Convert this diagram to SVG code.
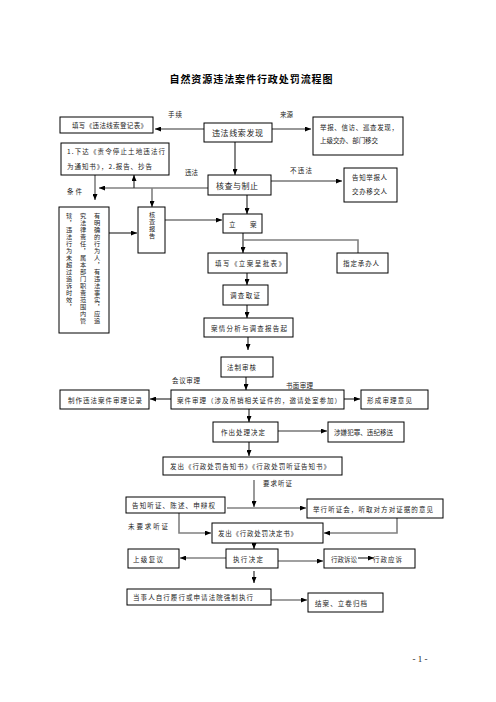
<svg xmlns="http://www.w3.org/2000/svg" width="496" height="702" viewBox="0 0 496 702">
<defs>
<marker id="ah" markerWidth="6" markerHeight="5" refX="6" refY="2.5" orient="auto" markerUnits="userSpaceOnUse">
<path d="M0,0 L6,2.5 L0,5 z" fill="#000"/>
</marker>
<style>
.b{fill:#fff;stroke:#000;stroke-width:1}
.t{font-family:"Noto Sans CJK SC","Noto Sans",sans-serif;font-size:6.5px;fill:#222;dominant-baseline:central}
.m{font-size:8px}
.c{stroke:#333;stroke-width:1.2;fill:none}
.g{stroke:#808080;stroke-width:1.6;fill:none}
.a{marker-end:url(#ah)}
.v{writing-mode:vertical-rl;font-size:6.2px;letter-spacing:0.8px;dominant-baseline:auto}
</style>
</defs>
<rect width="496" height="702" fill="#fff"/>
<text x="251" y="78" text-anchor="middle" dominant-baseline="central" font-family="Noto Sans CJK SC, sans-serif" font-size="10" font-weight="bold" textLength="163" lengthAdjust="spacing">自然资源违法案件行政处罚流程图</text>

<g id="connectors">
<line class="c a" x1="204" y1="129" x2="155" y2="129"/>
<line class="c a" x1="272" y1="129" x2="311" y2="129"/>
<line class="c a" x1="235" y1="142" x2="235" y2="175"/>
<line class="c a" x1="271" y1="181" x2="342" y2="181"/>
<line class="g a" x1="208" y1="188" x2="99" y2="188"/>
<line class="c a" x1="134" y1="188" x2="134" y2="175"/>
<line class="g a" x1="152" y1="188" x2="152" y2="207"/>
<line class="g a" x1="95" y1="175" x2="95" y2="200"/>
<line class="c a" x1="109" y1="233" x2="137" y2="233"/>
<line class="c a" x1="165" y1="220" x2="222" y2="220"/>
<line class="c a" x1="247" y1="194" x2="247" y2="214"/>
<line class="c a" x1="243" y1="233" x2="243" y2="253"/>
<polyline class="g" points="243,240 358,240 358,253"/>
<line class="c a" x1="247" y1="273" x2="247" y2="285"/>
<line class="c a" x1="247" y1="305" x2="247" y2="318"/>
<line class="c a" x1="248" y1="337" x2="248" y2="350"/>
<line class="c a" x1="246" y1="377" x2="246" y2="390"/>
<line class="c a" x1="171" y1="399" x2="150" y2="399"/>
<line class="c a" x1="343" y1="399" x2="360" y2="399"/>
<line class="c a" x1="249" y1="409" x2="249" y2="422"/>
<line class="c a" x1="278" y1="431" x2="327" y2="431"/>
<line class="c a" x1="249" y1="442" x2="249" y2="456"/>
<line class="g a" x1="254" y1="480" x2="254" y2="507"/>
<line class="g a" x1="227" y1="508" x2="306" y2="508"/>
<polyline class="g a" points="179,513 179,533 211,533"/>
<polyline class="g a" points="397,518 397,533 324,533"/>
<line class="c a" x1="254" y1="543" x2="254" y2="549"/>
<line class="g a" x1="226" y1="558" x2="180" y2="558"/>
<line class="g a" x1="278" y1="561" x2="323" y2="561"/>
<line class="c a" x1="254" y1="571" x2="254" y2="583"/>
<line class="g a" x1="271" y1="600" x2="307" y2="600"/>
</g>

<g id="labels">
<text class="t" x="168" y="114" textLength="14">手续</text>
<text class="t" x="280" y="114" textLength="13">来源</text>
<text class="t" x="185" y="172" textLength="13">违法</text>
<text class="t" x="290" y="170" textLength="22">不违法</text>
<text class="t" x="67" y="191" textLength="15">条件</text>
<text class="t" x="172" y="380" textLength="28">会议审理</text>
<text class="t" x="286" y="385" textLength="27">书面审理</text>
<text class="t" x="263" y="483" textLength="29">要求听证</text>
<text class="t" x="128" y="526" textLength="40">未要求听证</text>
</g>

<g id="n-dengji"><rect class="b" x="60" y="117" width="93" height="16"/><text class="t" x="72" y="125" textLength="75">填写《违法线索登记表》</text></g>
<g id="n-faxian"><rect class="b" x="204" y="123" width="68" height="19"/><text class="t m" x="212" y="132.5" textLength="51">违法线索发现</text></g>
<g id="n-laiyuan"><rect class="b" x="313" y="117" width="90" height="38"/><text class="t" x="320" y="127" textLength="78">举报、信访、巡查发现，</text><text class="t" x="320" y="140" textLength="58">上级交办、部门移交</text></g>
<g id="n-xiada"><rect class="b" x="61" y="143" width="108" height="32"/><text class="t" x="67" y="151" textLength="98">1.下达《责令停止土地违法行</text><text class="t" x="67" y="166" textLength="85">为通知书》，2.报告、抄告</text></g>
<g id="n-hecha"><rect class="b" x="208" y="175" width="63" height="20"/><text class="t m" x="216" y="185" textLength="42">核查与制止</text></g>
<g id="n-gaozhi"><rect class="b" x="344" y="168" width="53" height="34"/><text class="t" x="352" y="177" textLength="35">告知举报人</text><text class="t" x="352" y="191" textLength="35">交办移交人</text></g>
<g id="n-tiaojian"><rect class="b" x="59" y="207" width="50" height="126"/>
<text class="t v" x="97" y="213">有明确的行为人，有违法事实，应追</text>
<text class="t v" x="83" y="213">究法律责任，属本部门职责范围内管</text>
<text class="t v" x="69" y="213">辖，违法行为未超过追诉时效，</text></g>
<g id="n-baogao"><rect class="b" x="138" y="207" width="27" height="46"/><text class="t v" x="152" y="212">核查报告</text></g>
<g id="n-lian"><rect class="b" x="223" y="214" width="39" height="19"/><text class="t" x="229" y="224">立</text><text class="t" x="250" y="224">案</text></g>
<g id="n-chengpi"><rect class="b" x="208" y="253" width="79" height="20"/><text class="t" x="215" y="263" textLength="70">填写《立案呈批表》</text></g>
<g id="n-chengban"><rect class="b" x="337" y="253" width="51" height="20"/><text class="t" x="343" y="263" textLength="36">指定承办人</text></g>
<g id="n-diaocha"><rect class="b" x="223" y="285" width="45" height="20"/><text class="t" x="230" y="295" textLength="30">调查取证</text></g>
<g id="n-fenxi"><rect class="b" x="204" y="318" width="89" height="19"/><text class="t" x="211" y="327.5" textLength="76">案情分析与调查报告起</text></g>
<g id="n-fazhi"><rect class="b" x="221" y="357" width="52" height="20"/><text class="t" x="227" y="367" textLength="29">法制审核</text></g>
<g id="n-shenli"><rect class="b" x="171" y="390" width="173" height="19"/><text class="t" x="177" y="399.5" textLength="164">案件审理（涉及吊销相关证件的，邀请处室参加）</text></g>
<g id="n-jilu"><rect class="b" x="60" y="390" width="89" height="19"/><text class="t" x="68" y="399.5" textLength="74">制作违法案件审理记录</text></g>
<g id="n-yijian"><rect class="b" x="361" y="390" width="67" height="19"/><text class="t" x="367" y="399.5" textLength="45">形成审理意见</text></g>
<g id="n-jueding"><rect class="b" x="213" y="422" width="65" height="20"/><text class="t" x="221" y="432" textLength="44">作出处理决定</text></g>
<g id="n-yisong"><rect class="b" x="328" y="422" width="76" height="20"/><text class="t" x="334" y="432" textLength="59">涉嫌犯罪、违纪移送</text></g>
<g id="n-gaozhishu"><rect class="b" x="163" y="457" width="179" height="18"/><text class="t" x="170" y="466" textLength="160">发出《行政处罚告知书》《行政处罚听证告知书》</text></g>
<g id="n-tingzheng"><rect class="b" x="126" y="497" width="99" height="16"/><text class="t" x="132" y="505" textLength="83">告知听证、陈述、申辩权</text></g>
<g id="n-juxing"><rect class="b" x="307" y="499" width="136" height="19"/><text class="t" x="313" y="508.5" textLength="120">举行听证会，听取对方对证据的意见</text></g>
<g id="n-juedingshu"><rect class="b" x="212" y="523" width="111" height="20"/><text class="t" x="218" y="533" textLength="79">发出《行政处罚决定书》</text></g>
<g id="n-fuyi"><rect class="b" x="128" y="549" width="51" height="19"/><text class="t" x="133" y="558.5" textLength="30">上级复议</text></g>
<g id="n-zhixing"><rect class="b" x="226" y="549" width="52" height="19"/><text class="t" x="233" y="558.5" textLength="30">执行决定</text></g>
<g id="n-susong"><rect class="b" x="324" y="549" width="91" height="19"/><text class="t" x="331" y="558.5" textLength="26">行政诉讼</text><line class="c a" x1="358" y1="558" x2="374" y2="558"/><text class="t" x="373" y="558.5" textLength="29">行政应诉</text></g>
<g id="n-lvxing"><rect class="b" x="127" y="589" width="144" height="16"/><text class="t" x="133" y="597" textLength="120">当事人自行履行或申请法院强制执行</text></g>
<g id="n-jiean"><rect class="b" x="308" y="593" width="75" height="19"/><text class="t" x="315" y="602.5" textLength="52">结案、立卷归档</text></g>

<text x="420" y="659" text-anchor="middle" dominant-baseline="central" font-family="Liberation Serif, serif" font-size="9" fill="#222">- 1 -</text>
</svg>
